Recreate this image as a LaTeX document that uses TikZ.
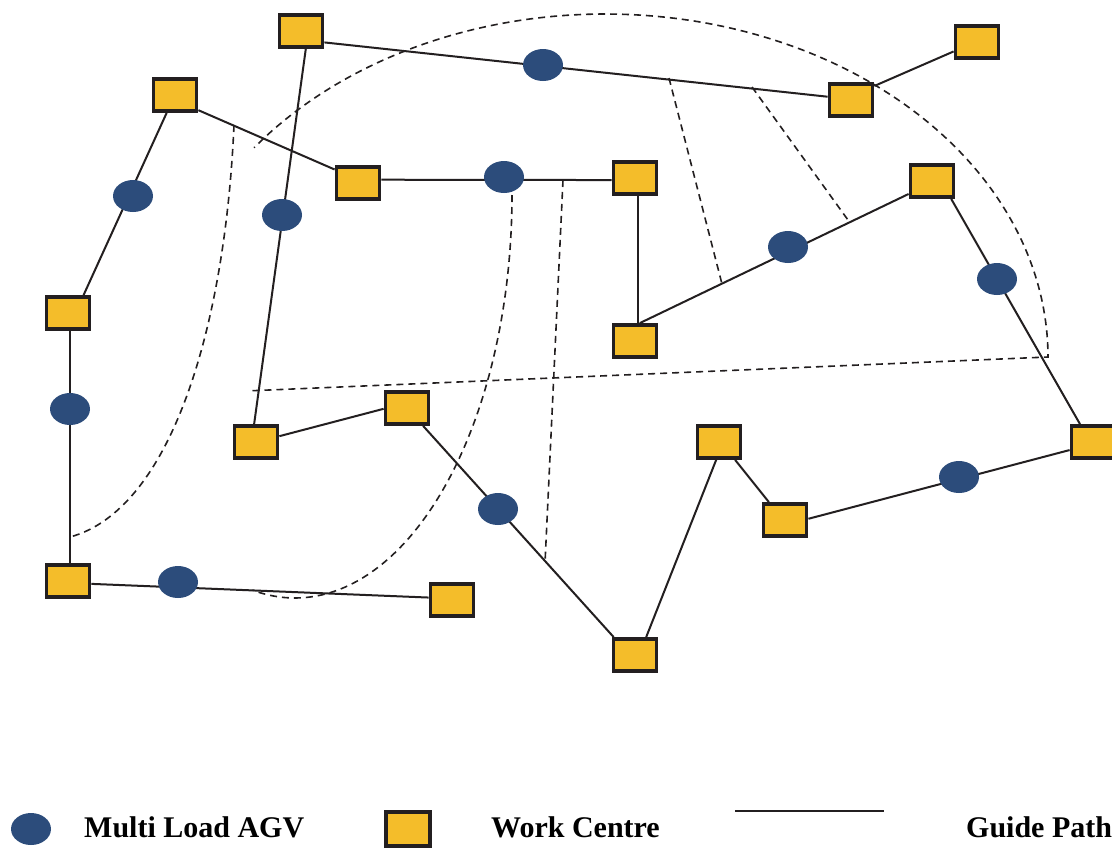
\documentclass[tikz,border=0pt]{standalone}
\usepackage{fontspec}
\setmainfont{Liberation Serif}
\usetikzlibrary{shapes.geometric}
\pgfdeclarelayer{bg}
\pgfsetlayers{bg,main}
\definecolor{wcyellow}{RGB}{244,189,42}
\definecolor{agvblue}{RGB}{44,76,123}
\definecolor{inkdark}{RGB}{35,31,32}
\tikzset{
  wc/.style={rectangle, draw=inkdark, fill=wcyellow, line width=3.8pt,
             minimum width=43pt, minimum height=32pt, inner sep=0pt},
  agv/.style={ellipse, fill=agvblue, minimum width=40pt, minimum height=32pt, inner sep=0pt},
  guide/.style={draw=inkdark, line width=2pt},
  zone/.style={draw=inkdark, line width=1.6pt, dash pattern=on 7pt off 5pt},
  legendtext/.style={anchor=base west, font=\bfseries\fontsize{30}{36}\selectfont,
                     inner sep=0pt, text=black},
}
\begin{document}
\begin{tikzpicture}[x=1pt,y=-1pt]
\useasboundingbox (0,0) rectangle (1112,852);
\begin{pgfonlayer}{bg}
  \fill[white] (0,0) rectangle (1112,852);
\end{pgfonlayer}

% work centres
\node[wc] (A) at (301,31) {};
\node[wc] (B) at (175,95) {};
\node[wc] (C) at (358,183) {};
\node[wc] (D) at (635,178) {};
\node[wc] (E) at (977,42) {};
\node[wc] (F) at (851,100) {};
\node[wc] (G) at (932,181) {};
\node[wc] (H) at (635,341) {};
\node[wc] (I) at (68,313) {};
\node[wc] (J) at (256,442) {};
\node[wc] (K) at (407,408) {};
\node[wc] (L) at (719,442) {};
\node[wc] (M) at (785,520) {};
\node[wc] (N) at (1093,442) {};
\node[wc] (O) at (68,581) {};
\node[wc] (P) at (452,600) {};
\node[wc] (Q) at (635,655) {};

% multi load AGVs
\node[agv] (v1) at (133,196) {};
\node[agv] (v2) at (282,215) {};
\node[agv] (v3) at (543,65) {};
\node[agv] (v4) at (504,177) {};
\node[agv] (v5) at (788,247) {};
\node[agv] (v6) at (997,279) {};
\node[agv] (v7) at (70,409) {};
\node[agv] (v8) at (498,509) {};
\node[agv] (v9) at (178,582) {};
\node[agv] (v10) at (959,477) {};

\begin{pgfonlayer}{bg}
  % guide paths
  \draw[guide] (A.-26) -- (F.172);
  \draw[guide] (F.31) -- (E.202);
  \draw[guide] (B.-115) -- (I.49);
  \draw[guide] (B.-33) -- (C.150);
  \draw[guide] (A.-75) -- (J.96);
  \draw[guide] (C.8) -- (D.-175);
  \draw[guide] (D.-82) -- (H.82);
  \draw[guide] (H.75) -- (G.209);
  \draw[guide] (G.-43) -- (N.126);
  \draw[guide] (I.-83) -- (O.83);
  \draw[guide] (O.-7) -- (P.174);
  \draw[guide] (J.14) -- (K.182);
  \draw[guide] (K.-48) -- (Q.140);
  \draw[guide] (Q.58) -- (L.-99);
  \draw[guide] (L.-48) -- (M.132);
  \draw[guide] (M.3) -- (N.199);

  % zone boundaries
  \draw[zone] (252.5,390.7) -- plot[smooth, domain=0:142.4, samples=70]
        ({605+443*cos(\x)},{357-343*sin(\x)});
  \draw[zone] (234,125) .. controls (225,330) and (170,510) .. (70,537);
  \draw[zone] plot[smooth, domain=0:101.3, samples=50]
        ({295+217*cos(\x)},{195+403*sin(\x)});
  \draw[zone] (563,180) -- (545,563);
  \draw[zone] (669,78) -- (722,284);
  \draw[zone] (752,87) -- (848,220);
\end{pgfonlayer}

% legend
\node[agv] (lagv) at (31,829) {};
\node[legendtext] (tagv) at (84,837.5) {Multi Load AGV};
\node[wc, minimum width=44.5pt, minimum height=33.5pt] (lwc) at (408,829) {};
\node[legendtext] (twc) at (491,837.5) {Work Centre};
\coordinate (lg1) at (735,811);
\coordinate (lg2) at (884,811);
\draw[guide, line width=2.2pt] (lg1) -- (lg2);
\node[legendtext] (tgp) at (966,837.5) {Guide Path};
\end{tikzpicture}
\end{document}
